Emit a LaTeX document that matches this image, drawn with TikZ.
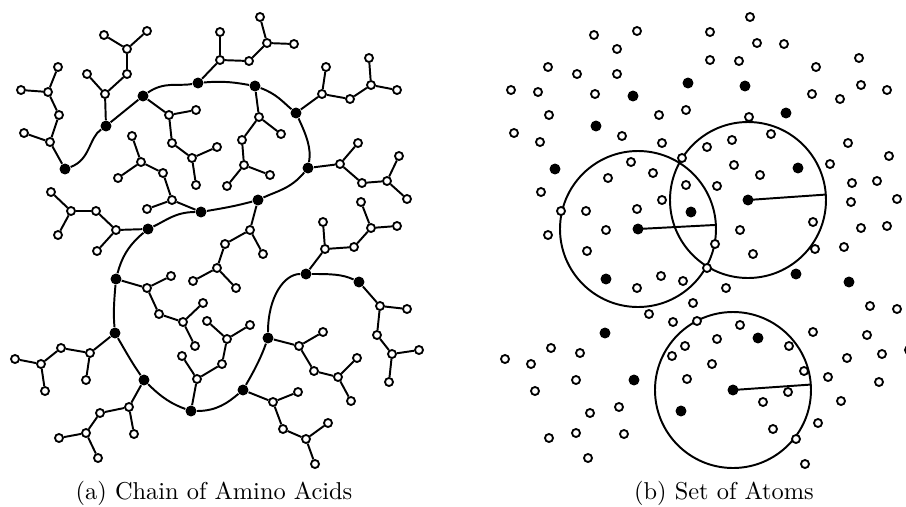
\documentclass[tikz,border=0pt]{standalone}
\usepackage{tikz}
\usetikzlibrary{backgrounds}

% all atoms of the protein, placed at their own coordinates
\newcommand{\atoms}{%
		\node[core] (b1) at (65,169) {};
		\node[atom] (b1a) at (50,142) {};
		\node[atom] (b1b) at (24,133) {};
		\node[atom] (b1c) at (59,115) {};
		\node[atom] (b1d) at (48,92) {};
		\node[atom] (b1e) at (21,90) {};
		\node[atom] (b1f) at (58,67) {};
		\node[core] (b2) at (106,126) {};
		\node[atom] (b2a) at (105,94) {};
		\node[atom] (b2b) at (87,74) {};
		\node[atom] (b2c) at (127,74) {};
		\node[atom] (b2d) at (127,49) {};
		\node[atom] (b2e) at (104,35) {};
		\node[atom] (b2f) at (147,31) {};
		\node[core] (b3) at (143,96) {};
		\node[atom] (b3a) at (169,115) {};
		\node[atom] (b3b) at (196,110) {};
		\node[atom] (b3c) at (172,143) {};
		\node[atom] (b3d) at (192,158) {};
		\node[atom] (b3e) at (217,147) {};
		\node[atom] (b3f) at (196,185) {};
		\node[core] (b4) at (198,83) {};
		\node[atom] (b4a) at (220,60) {};
		\node[atom] (b4b) at (220,32) {};
		\node[atom] (b4c) at (249,61) {};
		\node[atom] (b4d) at (267,43) {};
		\node[atom] (b4e) at (260,17) {};
		\node[atom] (b4f) at (294,44) {};
		\node[core] (b5) at (255,86) {};
		\node[atom] (b5a) at (259,117) {};
		\node[atom] (b5b) at (281,134) {};
		\node[atom] (b5c) at (242,140) {};
		\node[atom] (b5d) at (244,165) {};
		\node[atom] (b5e) at (227,186) {};
		\node[atom] (b5f) at (270,175) {};
		\node[core] (b6) at (296,113) {};
		\node[atom] (b6a) at (322,94) {};
		\node[atom] (b6b) at (326,67) {};
		\node[atom] (b6c) at (350,99) {};
		\node[atom] (b6d) at (371,85) {};
		\node[atom] (b6e) at (369,58) {};
		\node[atom] (b6f) at (397,90) {};
		\node[core] (b7) at (308,168) {};
		\node[atom] (b7a) at (340,164) {};
		\node[atom] (b7b) at (358,143) {};
		\node[atom] (b7c) at (362,183) {};
		\node[atom] (b7d) at (387,181) {};
		\node[atom] (b7e) at (399,156) {};
		\node[atom] (b7f) at (407,199) {};
		\node[core] (b8) at (258,200) {};
		\node[atom] (b8a) at (250,230) {};
		\node[atom] (b8b) at (263,254) {};
		\node[atom] (b8c) at (225,244) {};
		\node[atom] (b8d) at (217,268) {};
		\node[atom] (b8e) at (193,281) {};
		\node[atom] (b8f) at (236,288) {};
		\node[core] (b9) at (201,212) {};
		\node[atom] (b9a) at (172,200) {};
		\node[atom] (b9b) at (147,209) {};
		\node[atom] (b9c) at (163,173) {};
		\node[atom] (b9d) at (141,162) {};
		\node[atom] (b9e) at (132,136) {};
		\node[atom] (b9f) at (118,178) {};
		\node[core] (b10) at (148,229) {};
		\node[atom] (b10a) at (116,230) {};
		\node[atom] (b10b) at (97,251) {};
		\node[atom] (b10c) at (96,211) {};
		\node[atom] (b10d) at (71,211) {};
		\node[atom] (b10e) at (51,192) {};
		\node[atom] (b10f) at (58,235) {};
		\node[core] (b11) at (116,279) {};
		\node[atom] (b11a) at (147,288) {};
		\node[atom] (b11b) at (171,276) {};
		\node[atom] (b11c) at (159,314) {};
		\node[atom] (b11d) at (183,322) {};
		\node[atom] (b11e) at (203,303) {};
		\node[atom] (b11f) at (195,346) {};
		\node[core] (b12) at (115,333) {};
		\node[atom] (b12a) at (90,353) {};
		\node[atom] (b12b) at (86,380) {};
		\node[atom] (b12c) at (61,348) {};
		\node[atom] (b12d) at (41,364) {};
		\node[atom] (b12e) at (15,359) {};
		\node[atom] (b12f) at (45,391) {};
		\node[core] (b13) at (144,380) {};
		\node[atom] (b13a) at (129,407) {};
		\node[atom] (b13b) at (134,434) {};
		\node[atom] (b13c) at (100,413) {};
		\node[atom] (b13d) at (86,433) {};
		\node[atom] (b13e) at (59,438) {};
		\node[atom] (b13f) at (98,458) {};
		\node[core] (b14) at (191,411) {};
		\node[atom] (b14a) at (197,379) {};
		\node[atom] (b14b) at (182,356) {};
		\node[atom] (b14c) at (222,364) {};
		\node[atom] (b14d) at (227,339) {};
		\node[atom] (b14e) at (207,321) {};
		\node[atom] (b14f) at (250,325) {};
		\node[core] (b15) at (243,390) {};
		\node[atom] (b15a) at (273,402) {};
		\node[atom] (b15b) at (298,392) {};
		\node[atom] (b15c) at (283,429) {};
		\node[atom] (b15d) at (306,439) {};
		\node[atom] (b15e) at (328,423) {};
		\node[atom] (b15f) at (315,464) {};
		\node[core] (b16) at (268,338) {};
		\node[atom] (b16a) at (299,346) {};
		\node[atom] (b16b) at (323,332) {};
		\node[atom] (b16c) at (314,371) {};
		\node[atom] (b16d) at (338,377) {};
		\node[atom] (b16e) at (357,358) {};
		\node[atom] (b16f) at (351,401) {};
		\node[core] (b17) at (306,274) {};
		\node[atom] (b17a) at (325,249) {};
		\node[atom] (b17b) at (323,222) {};
		\node[atom] (b17c) at (354,247) {};
		\node[atom] (b17d) at (371,228) {};
		\node[atom] (b17e) at (361,202) {};
		\node[atom] (b17f) at (397,226) {};
		\node[core] (b18) at (359,282) {};
		\node[atom] (b18a) at (380,306) {};
		\node[atom] (b18b) at (407,309) {};
		\node[atom] (b18c) at (377,335) {};
		\node[atom] (b18d) at (392,354) {};
		\node[atom] (b18e) at (419,350) {};
		\node[atom] (b18f) at (389,382) {};
}

\begin{document}
\begin{tikzpicture}
		[x=0.41pt, y=-0.41pt,
		atom/.style={circle, draw=black, fill=white, line width=0.75pt, inner sep=0pt, minimum size=3.3pt},
		core/.style={circle, fill=black, inner sep=0pt, minimum size=4.5pt},
		bond/.style={line width=0.8pt},
		ring/.style={line width=0.8pt}]
		\useasboundingbox (0,0) rectangle (906,506);

		% (a) the chain
		\begin{scope}[name prefix=l-]
		\atoms
		\draw[bond] (b1) to[out=20,in=215] (b2) -- (b3) to[out=35,in=190] (b4)
			to[out=5,in=170] (b5) to[out=-20,in=140] (b6) to[out=-65,in=80] (b7)
			to[out=-130,in=25] (b8) to[out=195,in=10] (b9) to[out=180,in=25] (b10)
			to[out=220,in=75] (b11) to[out=265,in=95] (b12) to[out=-60,in=125] (b13)
			to[out=-45,in=160] (b14) to[out=0,in=220] (b15) to[out=60,in=250] (b16)
			to[out=90,in=180,out looseness=1.3,in looseness=0.8] (b17) to[out=0,in=155] (b18);
		\draw[bond] (b1) -- (b1a) -- (b1c) -- (b1d) -- (b1e) (b1a) -- (b1b) (b1d) -- (b1f);
		\draw[bond] (b2) -- (b2a) -- (b2c) -- (b2d) -- (b2e) (b2a) -- (b2b) (b2d) -- (b2f);
		\draw[bond] (b3) -- (b3a) -- (b3c) -- (b3d) -- (b3e) (b3a) -- (b3b) (b3d) -- (b3f);
		\draw[bond] (b4) -- (b4a) -- (b4c) -- (b4d) -- (b4e) (b4a) -- (b4b) (b4d) -- (b4f);
		\draw[bond] (b5) -- (b5a) -- (b5c) -- (b5d) -- (b5e) (b5a) -- (b5b) (b5d) -- (b5f);
		\draw[bond] (b6) -- (b6a) -- (b6c) -- (b6d) -- (b6e) (b6a) -- (b6b) (b6d) -- (b6f);
		\draw[bond] (b7) -- (b7a) -- (b7c) -- (b7d) -- (b7e) (b7a) -- (b7b) (b7d) -- (b7f);
		\draw[bond] (b8) -- (b8a) -- (b8c) -- (b8d) -- (b8e) (b8a) -- (b8b) (b8d) -- (b8f);
		\draw[bond] (b9) -- (b9a) -- (b9c) -- (b9d) -- (b9e) (b9a) -- (b9b) (b9d) -- (b9f);
		\draw[bond] (b10) -- (b10a) -- (b10c) -- (b10d) -- (b10e) (b10a) -- (b10b) (b10d) -- (b10f);
		\draw[bond] (b11) -- (b11a) -- (b11c) -- (b11d) -- (b11e) (b11a) -- (b11b) (b11d) -- (b11f);
		\draw[bond] (b12) -- (b12a) -- (b12c) -- (b12d) -- (b12e) (b12a) -- (b12b) (b12d) -- (b12f);
		\draw[bond] (b13) -- (b13a) -- (b13c) -- (b13d) -- (b13e) (b13a) -- (b13b) (b13d) -- (b13f);
		\draw[bond] (b14) -- (b14a) -- (b14c) -- (b14d) -- (b14e) (b14a) -- (b14b) (b14d) -- (b14f);
		\draw[bond] (b15) -- (b15a) -- (b15c) -- (b15d) -- (b15e) (b15a) -- (b15b) (b15d) -- (b15f);
		\draw[bond] (b16) -- (b16a) -- (b16c) -- (b16d) -- (b16e) (b16a) -- (b16b) (b16d) -- (b16f);
		\draw[bond] (b17) -- (b17a) -- (b17c) -- (b17d) -- (b17e) (b17a) -- (b17b) (b17d) -- (b17f);
		\draw[bond] (b18) -- (b18a) -- (b18c) -- (b18d) -- (b18e) (b18a) -- (b18b) (b18d) -- (b18f);
		\end{scope}

		% (b) the same atoms, three balls round three centres
		\begin{scope}[shift={(490,0)}, name prefix=r-]
		\atoms
		\begin{scope}[on background layer]
		\draw[ring] (b10) circle[radius=78];
		\draw[ring] (b10.center) -- ++(-3:78);
		\draw[ring] (b8) circle[radius=78];
		\draw[ring] (b8.center) -- ++(-4:78);
		\draw[ring] (b15) circle[radius=78];
		\draw[ring] (b15.center) -- ++(-4:78);
		\end{scope}
		\end{scope}

		\node[anchor=base] (capa) at (214,499) {(a) Chain of Amino Acids};
		\node[anchor=base] (capb) at (724,499) {(b) Set of Atoms};
	\end{tikzpicture}
\end{document}
